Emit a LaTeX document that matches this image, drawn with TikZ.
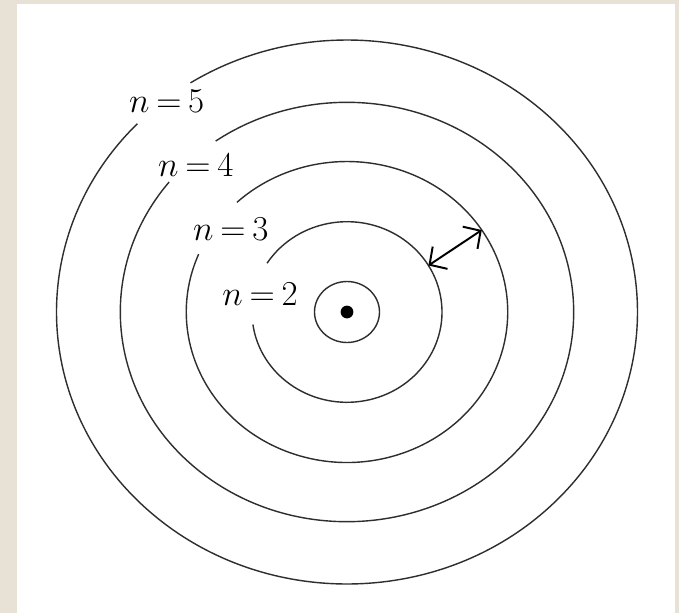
\documentclass[tikz,border=0pt]{standalone}
\usepackage{xcolor}
\usepackage{tikz}
\usetikzlibrary{arrows.meta}
\definecolor{pagebeige}{HTML}{E8E2D6}
\definecolor{orbitgray}{HTML}{2E2E2E}

\begin{document}
\begin{tikzpicture}[
    orbit/.style={draw=orbitgray, line width=1pt},
    shelllabel/.style={font=\fontsize{22.9}{27}\selectfont, inner sep=0pt},
    gapbarb/.tip={Straight Barb[length=9pt, width=19pt]}]
  % page and white sheet
  \fill[pagebeige] (-8.675,-7.525) rectangle (8.3,7.8);
  \fill[white] (-8.25,-7.525) rectangle (8.2,7.7);
  \useasboundingbox (-8.675,-7.525) rectangle (8.3,7.8);

  % nucleus and n=1 orbit
  \node[circle, fill=black, minimum size=0.32cm, inner sep=0pt] (nucleus) at (0,0) {};
  \draw[orbit] (nucleus.center) ellipse[x radius=0.8125, y radius=0.7625];

  % broken orbits, label sits in the gap
  \foreach \n/\rx/\ry/\a/\b/\lx/\ly in {
      2/2.375/2.2575/188/507.3/-2.175/0.45,
      3/4.0175/3.7625/157.4/493.2/-2.905/2.075,
      4/5.6675/5.2425/141.7/485.4/-3.78/3.675,
      5/7.2625/6.8/136.2/482.6/-4.5075/5.2575}{
    \draw[orbit] (\a:\rx cm and \ry cm) arc[start angle=\a, end angle=\b, x radius=\rx, y radius=\ry];
    \node[shelllabel] (shell\n) at (\lx,\ly) {$n\mskip3.5mu{=}\mskip3.5mu\n$};
  }

  % spacing between n=2 and n=3
  \coordinate (ontwo) at (31:2.375cm and 2.2575cm);
  \coordinate (onthree) at (33:4.0175cm and 3.7625cm);
  \draw[line width=1.4pt, gapbarb-gapbarb] (ontwo) -- (onthree);
\end{tikzpicture}
\end{document}
